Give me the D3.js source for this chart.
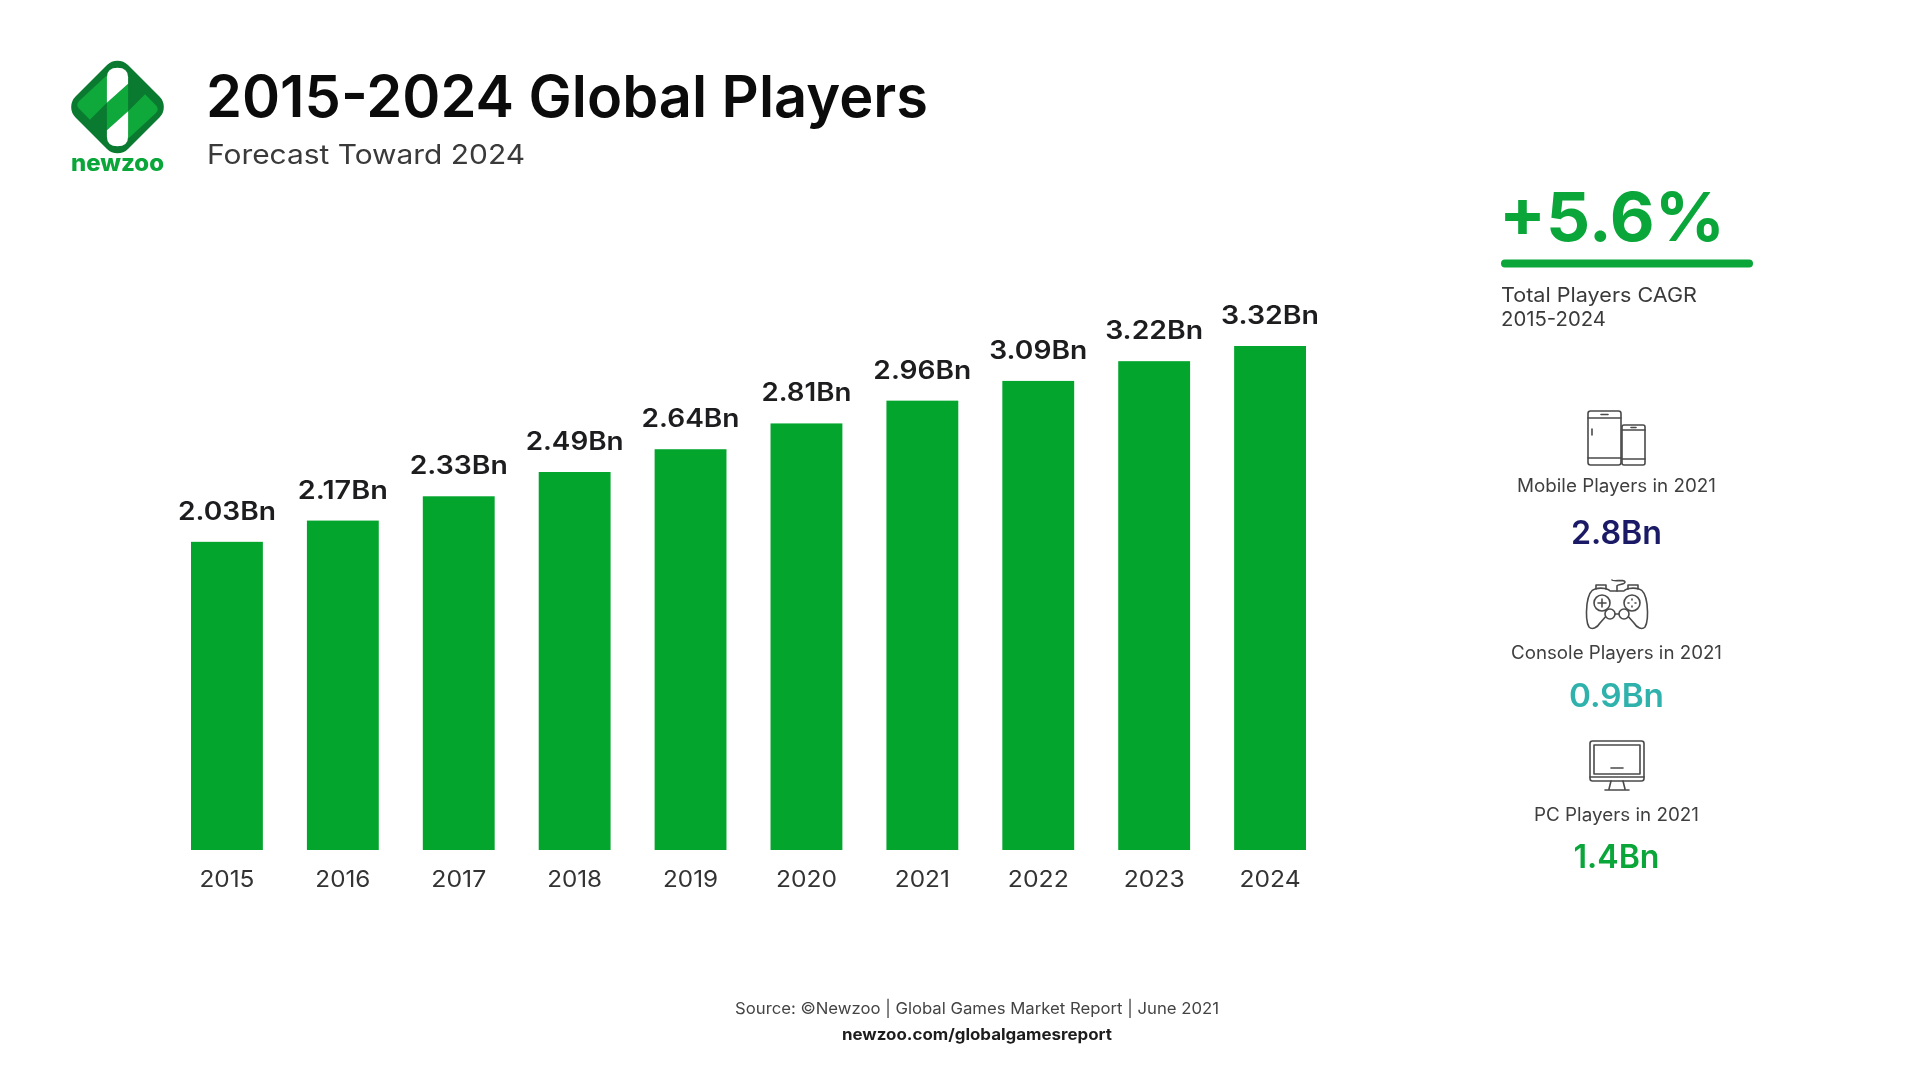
<!DOCTYPE html>
<html>
<head>
    <meta charset="utf-8">
    <style>
        * { padding: 0; margin: 0; }
        body { background: #fff; overflow: hidden; }
        svg { display: block; filter: blur(0.5px); }
        text { font-family: Inter, "Noto Sans", sans-serif; }
        .icon { fill: none; stroke: #4a4a4a; stroke-width: 1.6; stroke-linejoin: round; stroke-linecap: round; }
    </style>
    <script src="https://cdn.jsdelivr.net/npm/d3@7"></script>
</head>
<body>
<script>
    /////////////////////////////////////////////////////
    // DATA
    /////////////////////////////////////////////////////

    const years = ["2015", "2016", "2017", "2018", "2019", "2020", "2021", "2022", "2023", "2024"]
    const players = [2.03, 2.17, 2.33, 2.49, 2.64, 2.81, 2.96, 3.09, 3.22, 3.32]

    const platformLabels = ["Mobile Players in 2021", "Console Players in 2021", "PC Players in 2021"]
    const platformValues = [2.8, 0.9, 1.4]
    const platformColors = ["#1a1a66", "#2eb2ab", "#0ba63a"]

    const titleText = "2015-2024 Global Players"
    const subtitleText = "Forecast Toward 2024"
    const cagrText = "+5.6%"
    const cagrLabels = ["Total Players CAGR", "2015-2024"]
    const sourceText = "Source: ©Newzoo | Global Games Market Report | June 2021"
    const linkText = "newzoo.com/globalgamesreport"

    /////////////////////////////////////////////////////
    // SETUP
    /////////////////////////////////////////////////////

    const width = 1920
    const height = 1078
    const green = "#03a52d"

    const svg = d3.select("body").append("svg")
        .attr("width", width)
        .attr("height", height)

    const bn = d => d.toFixed(String(d).length > 3 ? 2 : 1) + "Bn"

    //Squeeze or stretch a text to the width it has in the picture
    function fit(sel, w) {
        return sel.attr("textLength", w).attr("lengthAdjust", "spacingAndGlyphs")
    }

    function label(x, y, txt, size, weight, color, w, anchor) {
        const t = svg.append("text")
            .attr("x", x).attr("y", y)
            .attr("font-size", size)
            .attr("font-weight", weight)
            .attr("fill", color)
            .attr("text-anchor", anchor || "start")
            .text(txt)
        if (w) fit(t, w)
        return t
    }

    /////////////////////////////////////////////////////
    // BARS
    /////////////////////////////////////////////////////

    const x = d3.scaleBand()
        .domain(years)
        .range([191, 1306])
        .paddingInner(0.38)
        .paddingOuter(0)

    const y = d3.scaleLinear()
        .domain([0, 3.32])
        .range([850, 346])

    svg.append("g").selectAll("rect")
        .data(players)
        .join("rect")
        .attr("x", (d, i) => x(years[i]))
        .attr("y", d => y(d))
        .attr("width", x.bandwidth())
        .attr("height", d => y(0) - y(d))
        .attr("fill", green)

    //In the picture's font the digit 1 is much narrower than the others
    svg.append("g").selectAll("text")
        .data(players)
        .join("text")
        .attr("x", (d, i) => x(years[i]) + x.bandwidth() / 2)
        .attr("y", d => y(d) - 22)
        .attr("text-anchor", "middle")
        .attr("font-size", 25)
        .attr("font-weight", 600)
        .attr("fill", "#1d1d1f")
        .text(bn)
        .each(function (d) {
            fit(d3.select(this), bn(d).includes("1") ? 90 : 98)
        })

    const xAxis = svg.append("g")
        .attr("transform", `translate(0,${y(0)})`)
        .call(d3.axisBottom(x).tickSize(0).tickPadding(20.5))
    xAxis.select(".domain").remove()
    xAxis.selectAll("text")
        .attr("font-family", "Inter")
        .attr("font-size", 23)
        .attr("font-weight", 400)
        .attr("fill", "#333")
        .attr("lengthAdjust", "spacingAndGlyphs")
        .attr("textLength", d => d.includes("1") ? 55 : 61)

    /////////////////////////////////////////////////////
    // HEADER
    /////////////////////////////////////////////////////

    label(206, 117, titleText, 58, 600, "#0b0b0b", 722)
    label(207, 164, subtitleText, 27, 400, "#3a3a3a", 318)

    // logo
    const logo = svg.append("g").attr("transform", "translate(117.5,107) scale(1.06)")
    logo.append("clipPath").attr("id", "diamond")
        .append("rect")
        .attr("x", -35).attr("y", -35).attr("width", 70).attr("height", 70).attr("rx", 14)
        .attr("transform", "rotate(45)")
    const mark = logo.append("g").attr("clip-path", "url(#diamond)")
    mark.append("rect")
        .attr("x", -50).attr("y", -50).attr("width", 100).attr("height", 100)
        .attr("fill", "#0a7a30")
    mark.append("path")
        .attr("d", "M-10,-4L10,-22L10,4L-10,22Z")
        .attr("fill", "#0fa83a")
    mark.append("path")
        .attr("d", "M-10,-30L-10,-4L-26,12L-36,2Q-40,-2 -36,-6Z")
        .attr("fill", "#0fa83a")
    mark.append("path")
        .attr("d", "M10,30L10,4L26,-12L36,-2Q40,2 36,6Z")
        .attr("fill", "#0fa83a")
    mark.append("path")
        .attr("d", "M-10,-4L10,-22L10,-28Q10,-37 0,-37Q-10,-37 -10,-28Z")
        .attr("fill", "#fff")
    mark.append("path")
        .attr("d", "M10,4L-10,22L-10,28Q-10,37 0,37Q10,37 10,28Z")
        .attr("fill", "#fff")
    label(117.5, 171, "newzoo", 23, 800, "#0ba63a", 93, "middle")

    /////////////////////////////////////////////////////
    // RIGHT COLUMN
    /////////////////////////////////////////////////////

    label(1499, 241, cagrText, 68, 700, "#0ba63a", 226)
    svg.append("rect")
        .attr("x", 1501).attr("y", 259.5)
        .attr("width", 252).attr("height", 8).attr("rx", 4)
        .attr("fill", "#0ba63a")
    label(1501, 302, cagrLabels[0], 20, 400, "#3a3a3a", 196)
    label(1501, 325.5, cagrLabels[1], 20, 400, "#3a3a3a", 105)

    const labelPos = [[1616.5, 491.5, 199], [1616.5, 658.5, 211], [1616.5, 821, 165]]
    const valuePos = [[1616.5, 543.5, 91], [1616.5, 706.5, 95], [1616.5, 867.5, 86]]
    platformLabels.forEach((t, i) => {
        label(labelPos[i][0], labelPos[i][1], t, 18, 400, "#3f3f3f", labelPos[i][2], "middle")
        label(valuePos[i][0], valuePos[i][1], bn(platformValues[i]), 32, 600, platformColors[i], valuePos[i][2], "middle")
    })

    // phones
    const phone = svg.append("g").attr("class", "icon").attr("transform", "translate(1616,438)")
    phone.append("rect").attr("x", -28).attr("y", -27).attr("width", 33).attr("height", 54).attr("rx", 2.5)
    phone.append("path").attr("d", "M-28,-20H5M-28,20H5M-15,-23.5H-8M-24,-9V-3")
    phone.append("rect").attr("x", 6).attr("y", -13).attr("width", 23).attr("height", 40).attr("rx", 2).attr("fill", "#fff")
    phone.append("path").attr("d", "M6,-8H29M6,21H29M15,-10.5H20")

    // gamepad
    const pad = svg.append("g").attr("class", "icon").attr("transform", "translate(1617,606)")
    pad.append("path").attr("d", "M-22,-17C-27,-16 -29,-9 -30,-2C-31,8 -31,16 -28,21C-25,24 -20,22 -17,17L-9,8H9L17,17C20,22 25,24 28,21C31,16 31,8 30,-2C29,-9 27,-16 22,-17C15,-19 8,-17 7,-15H-7C-8,-17 -15,-19 -22,-17Z")
    pad.append("path").attr("d", "M-21,-17V-21H-11V-17M11,-17V-21H21V-17M0,-15V-20C0,-22 8,-21 8,-24C8,-27 -4,-24 -5,-26")
    pad.append("circle").attr("cx", -15).attr("cy", -3).attr("r", 8)
    pad.append("circle").attr("cx", 15).attr("cy", -3).attr("r", 8)
    pad.append("circle").attr("cx", -7).attr("cy", 8).attr("r", 5).attr("fill", "#fff")
    pad.append("circle").attr("cx", 7).attr("cy", 8).attr("r", 5).attr("fill", "#fff")
    pad.append("path").attr("d", "M-19,-3H-11M-15,-7V1M11,-3H12M18,-3H19M15,-7V-6M15,0V1")

    // monitor
    const screen = svg.append("g").attr("class", "icon").attr("transform", "translate(1617,766)")
    screen.append("rect").attr("x", -27).attr("y", -25).attr("width", 54).attr("height", 40).attr("rx", 2.5)
    screen.append("rect").attr("x", -23).attr("y", -21).attr("width", 46).attr("height", 29)
    screen.append("path").attr("d", "M-27,11H27M-6,15L-8,23M6,15L8,23M-12,24H12M-6,2H6")

    /////////////////////////////////////////////////////
    // FOOTER
    /////////////////////////////////////////////////////

    label(977, 1014, sourceText, 16, 400, "#444", 484, "middle")
    label(977, 1040, linkText, 16, 700, "#1c1c1c", 270, "middle")
</script>
</body>
</html>
